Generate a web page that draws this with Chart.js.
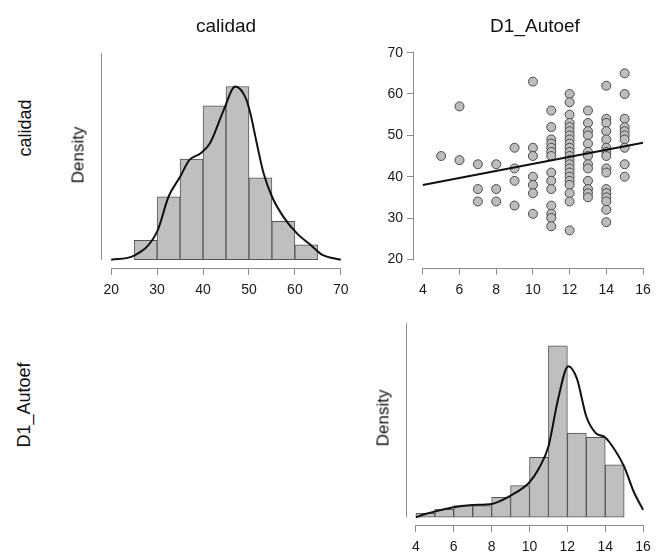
<!DOCTYPE html>
<html><head><meta charset="utf-8">
<script src="https://cdn.jsdelivr.net/npm/chart.js@4.4.1/dist/chart.umd.min.js"></script>
<style>
html,body{margin:0;padding:0;background:#fff;}
#wrap{position:relative;width:658px;height:556px;overflow:hidden;font-family:"Liberation Sans",Arial,sans-serif;color:#111;background:#fff;}
canvas{position:absolute;}
.lbl{position:absolute;white-space:nowrap;line-height:1;transform:translate(-50%,-50%);}
.rot{transform:translate(-50%,-50%) rotate(-90deg);}
</style></head>
<body><div id="wrap">
<canvas id="cA" width="280" height="300" style="left:80px;top:30px"></canvas>
<canvas id="cB" width="298" height="300" style="left:360px;top:30px"></canvas>
<canvas id="cC" width="298" height="256" style="left:360px;top:300px"></canvas>
<div class="lbl" style="left:226px;top:25px;font-size:19px">calidad</div>
<div class="lbl" style="left:535px;top:25px;font-size:19px">D1_Autoef</div>
<div class="lbl rot" style="left:25px;top:128px;font-size:18px">calidad</div>
<div class="lbl rot" style="left:24px;top:405px;font-size:18px">D1_Autoef</div>
<div class="lbl rot" style="left:78px;top:155px;font-size:17px">Density</div>
<div class="lbl rot" style="left:383px;top:418px;font-size:17px">Density</div>
</div>
<script>
// ---- data ----
const calidadBinStart = [25, 30, 35, 40, 45, 50, 55, 60];
const calidadBinWidth = 5;
const calidadDensity = [0.0060, 0.0195, 0.0312, 0.0477, 0.0537, 0.0254, 0.0119, 0.0046];
const calidadCurveX = [20, 25, 30, 32.5, 35, 37, 39.5, 41.5, 44.5, 47, 49.3, 50.3, 51.7, 53.2, 55, 57.5, 60.5, 63.5, 66, 70];
const calidadCurveY = [0, 0.0013, 0.0087, 0.0196, 0.0257, 0.0309, 0.0330, 0.0361, 0.0464, 0.0537, 0.0501, 0.0454, 0.0361, 0.0267, 0.0196, 0.0133, 0.0081, 0.0045, 0.0015, 0];
const calidadYTop = 0.064;

const autoefBinStart = [4, 5, 6, 7, 8, 9, 10, 11, 12, 13, 14];
const autoefBinWidth = 1;
const autoefDensity = [0.0075, 0.0149, 0.0218, 0.0218, 0.0373, 0.0590, 0.112, 0.320, 0.157, 0.149, 0.098];
const autoefCurveX = [4, 4.5, 5, 6, 7, 8, 9, 10, 10.5, 11, 11.5, 12.05, 12.5, 13, 13.5, 14, 14.5, 15, 15.5, 16];
const autoefCurveY = [0, 0.0062, 0.0106, 0.0187, 0.0230, 0.0249, 0.0404, 0.0653, 0.0914, 0.132, 0.219, 0.282, 0.259, 0.188, 0.157, 0.149, 0.126, 0.0945, 0.048, 0.0137];
const autoefYTop = 0.362;

const scatterAutoef = [5, 6,6, 7,7,7, 8,8,8, 9,9,9,9, 10,10,10,10,10,10,10,
  11,11,11,11,11,11,11,11,11,11,11,11,11,11,
  12,12,12,12,12,12,12,12,12,12,12,12,12,12,12,12,12,12,12,12,12,12,
  13,13,13,13,13,13,13,13,13,13,13,13,13,
  14,14,14,14,14,14,14,14,14,14,14,14,14,14,14,14,
  15,15,15,15,15,15,15,15,15,15];
const scatterCalidad = [45, 57,44, 43,37,34, 43,37,34, 47,42,39,33, 63,47,45,40,38,36,31,
  56,52,49,48,47,46,45,41,39,37,33,31,30,28,
  60,58,55,53,52,51,50,49,48,47,46,45,44,43,42,41,40,39,38,36,34,27,
  56,53,51,50,48,46,45,43,42,39,37,36,35,
  62,54,53,51,49,47,46,45,42,41,37,36,35,34,32,29,
  65,60,54,52,51,50,49,47,43,40];
const regLineX = [4, 16];
const regLineY = [38.0, 48.2];

const xTicksCalidad = [20, 70, 10];   // first, last, step
const xTicksAutoef = [4, 16, 2];
const yTicksCalidad = [20, 70, 10];

// ---- styling ----
const FONT = {family: '"Liberation Sans", Arial, sans-serif', size: 14};
const AXIS_COLOR = '#8c8c8c';
const TICK_COLOR = '#1a1a1a';
const BAR_FILL = '#bfbfbf';
const BAR_EDGE = '#555555';

// R-style axis lines: drawn only between first and last tick (or given range)
const rAxisLines = {
  id: 'rAxisLines',
  afterDraw(chart, args, opts) {
    const ctx = chart.ctx, a = chart.chartArea;
    ctx.save();
    ctx.strokeStyle = AXIS_COLOR; ctx.lineWidth = 1;
    const sx = chart.scales.x;
    if (sx && sx.ticks.length) {
      const x0 = sx.getPixelForValue(sx.ticks[0].value);
      const x1 = sx.getPixelForValue(sx.ticks[sx.ticks.length - 1].value);
      ctx.beginPath(); ctx.moveTo(x0, Math.round(a.bottom) + 0.5); ctx.lineTo(x1, Math.round(a.bottom) + 0.5); ctx.stroke();
    }
    const sy = chart.scales.y;
    if (sy) {
      let v0, v1;
      if (opts.yRange) { v0 = opts.yRange[0]; v1 = opts.yRange[1]; }
      else { v0 = sy.ticks[0].value; v1 = sy.ticks[sy.ticks.length - 1].value; }
      const y0 = sy.getPixelForValue(v0), y1 = sy.getPixelForValue(v1);
      const lx = Math.round(a.left) - 0.5;
      ctx.beginPath(); ctx.moveTo(lx, y0); ctx.lineTo(lx, y1); ctx.stroke();
    }
    ctx.restore();
  }
};

function ext(lo, hi) { const d = (hi - lo) * 0.04; return [lo - d, hi + d]; }

function xAxis(range, ticks, height) {
  const [mn, mx] = ext(range[0], range[1]);
  return {
    type: 'linear', min: mn, max: mx, offset: false,
    grid: {drawOnChartArea: false, drawTicks: true, tickLength: 7, color: AXIS_COLOR, offset: false},
    border: {display: false},
    ticks: {stepSize: ticks[2], includeBounds: false, autoSkip: false, maxRotation: 0, color: TICK_COLOR, font: FONT, padding: 7},
    afterFit(s) { s.height = height; }
  };
}

function histChart(id, binStart, binWidth, dens, cx, cy, yTop, xRange, xTicks, padding, xH) {
  const [ymn, ymx] = ext(0, yTop);
  return new Chart(document.getElementById(id), {
    type: 'bar',
    data: {
      datasets: [
        {type: 'line', data: cx.map((x, i) => ({x: x, y: cy[i]})), borderColor: '#111', borderWidth: 2,
         pointRadius: 0, cubicInterpolationMode: 'monotone', fill: false, order: 0},
        {type: 'bar', data: binStart.map((b, i) => ({x: b + binWidth / 2, y: dens[i]})), backgroundColor: BAR_FILL,
         borderColor: BAR_EDGE, borderWidth: 1, borderSkipped: false, barPercentage: 1, categoryPercentage: 1, order: 1}
      ]
    },
    options: {
      responsive: false, animation: false, devicePixelRatio: 1,
      layout: {padding: padding},
      plugins: {legend: {display: false}, tooltip: {enabled: false}, rAxisLines: {yRange: [0, yTop]}},
      scales: {
        x: xAxis(xRange, xTicks, xH),
        y: {type: 'linear', display: false, min: ymn, max: ymx}
      }
    },
    plugins: [rAxisLines]
  });
}

histChart('cA', calidadBinStart, calidadBinWidth, calidadDensity, calidadCurveX, calidadCurveY, calidadYTop,
  [20, 70], xTicksCalidad, {left: 22, right: 10, top: 15, bottom: 22}, 40);

histChart('cC', autoefBinStart, autoefBinWidth, autoefDensity, autoefCurveX, autoefCurveY, autoefYTop,
  [4, 16], xTicksAutoef, {left: 46.8, right: 2.8, top: 15.5, bottom: 0}, 31);

(function () {
  const [ymn, ymx] = ext(20, 70);
  new Chart(document.getElementById('cB'), {
    type: 'scatter',
    data: {
      datasets: [
        {type: 'line', data: regLineX.map((x, i) => ({x: x, y: regLineY[i]})), borderColor: '#111', borderWidth: 2,
         pointRadius: 0, fill: false, order: 0},
        {type: 'scatter', data: scatterAutoef.map((x, i) => ({x: x, y: scatterCalidad[i]})), pointRadius: 4.5,
         pointBackgroundColor: '#bdbdbd', pointBorderColor: '#4a4a4a', pointBorderWidth: 1, order: 1}
      ]
    },
    options: {
      responsive: false, animation: false, devicePixelRatio: 1,
      layout: {padding: {left: 0, right: 2, top: 14.4, bottom: 22.4}},
      plugins: {legend: {display: false}, tooltip: {enabled: false}},
      scales: {
        x: xAxis([4, 16], xTicksAutoef, 40),
        y: {
          type: 'linear', min: ymn, max: ymx,
          grid: {drawOnChartArea: false, drawTicks: true, tickLength: 7, color: AXIS_COLOR},
          border: {display: false},
          ticks: {stepSize: yTicksCalidad[2], includeBounds: false, color: TICK_COLOR, font: FONT, padding: 4},
          afterFit(s) { s.width = 54; }
        }
      }
    },
    plugins: [rAxisLines]
  });
})();
</script>
</body></html>
